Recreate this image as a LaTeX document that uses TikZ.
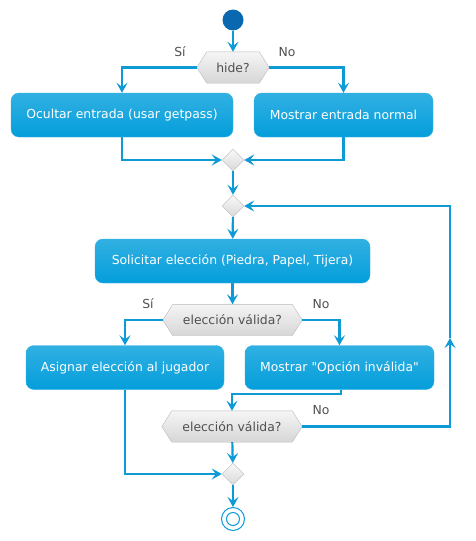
\documentclass[tikz,border=0pt]{standalone}
\usepackage{fontspec}
\setmainfont{DejaVu Sans}[Ligatures=TeXOff]
\usetikzlibrary{arrows.meta,shapes.geometric,backgrounds}
\definecolor{flowblue}{RGB}{14,154,215}
\definecolor{boxtop}{RGB}{49,176,226}
\definecolor{boxbot}{RGB}{4,158,219}
\definecolor{startblue}{RGB}{10,104,176}
\definecolor{hexgray}{RGB}{185,185,185}
\definecolor{txtgray}{RGB}{80,80,80}
\tikzset{
  flow/.style={line width=2.2pt,draw=flowblue,-{Stealth[length=10pt,width=11pt,inset=4pt]}},
  action/.style={rectangle,rounded corners=8pt,draw=boxtop,top color=boxtop,bottom color=boxbot,
    text=white,minimum height=44pt,inner sep=0pt,font=\fontsize{12.4}{14}\selectfont},
  decision/.style={rectangle,minimum height=31pt,inner sep=0pt,text=txtgray,font=\fontsize{12.4}{14}\selectfont},
  merge/.style={diamond,draw=hexgray,top color=gray!5,bottom color=gray!30,minimum width=22pt,minimum height=22pt,inner sep=0pt},
  lbl/.style={text=txtgray,font=\fontsize{12.4}{14}\selectfont},
}
\begin{document}
\begin{tikzpicture}[x=1pt,y=-1pt]
    \useasboundingbox (0,0) rectangle (475,541);
    %% Nodes
    \node[circle,fill=startblue,minimum size=21pt,inner sep=0pt] (start) at (233,20) {};
    \node[decision,minimum width=72pt] (hide) at (233,67.5) {hide?};
    \node[action,minimum width=222pt] (ocultar) at (122,115) {Ocultar entrada (usar getpass)};
    \node[action,minimum width=179pt] (mostrar) at (343.5,115) {Mostrar entrada normal};
    \node[merge] (merge1) at (233,160) {};
    \node[merge] (loop) at (233,206) {};
    \node[action,minimum width=275pt] (solicitar) at (232.5,261) {Solicitar elección (Piedra, Papel, Tijera)};
    \node[decision,minimum width=139pt] (valid1) at (232.5,320) {elección válida?};
    \node[action,minimum width=198pt] (asignar) at (125,367.5) {Asignar elección al jugador};
    \node[action,minimum width=189pt] (invalida) at (339.5,367.5) {Mostrar "Opción inválida"};
    \node[decision,minimum width=140pt] (valid2) at (232,426.5) {elección válida?};
    \node[merge] (merge3) at (233,474) {};
    \node[circle,draw=flowblue,fill=white,line width=1pt,minimum size=23pt,inner sep=0pt] (stop) at (233,519) {};
    \draw[flowblue,line width=1pt] (stop.center) circle (6.5pt);
    %% Hexagons behind the questions
    \begin{scope}[on background layer]
        \foreach \q in {hide,valid1,valid2}
            \draw[hexgray,top color=gray!8,bottom color=gray!32]
                (\q.west) -- ([xshift=10pt]\q.north west) -- ([xshift=-10pt]\q.north east)
                -- (\q.east) -- ([xshift=-10pt]\q.south east) -- ([xshift=10pt]\q.south west) -- cycle;
    \end{scope}
    %% Labels
    \node[lbl] (si1) at (180,52) {Sí};
    \node[lbl] (no1) at (287,52) {No};
    \node[lbl] (si2) at (148,304) {Sí};
    \node[lbl] (no2) at (321,304) {No};
    \node[lbl] (no3) at (321,410) {No};
    %% Flow
    \draw[flow] (start) -- (hide);
    \draw[flow] (hide.west) -| (ocultar);
    \draw[flow] (hide.east) -| (mostrar);
    \draw[flow] (ocultar) |- (merge1);
    \draw[flow] (mostrar) |- (merge1);
    \draw[flow] (merge1) -- (loop);
    \draw[flow] (loop) -- (solicitar);
    \draw[flow] (solicitar) -- (valid1);
    \draw[flow] (valid1.west) -| (asignar);
    \draw[flow] (valid1.east) -| (invalida);
    \draw[flow] ([xshift=1.5pt]invalida.south) -- ++(0,4) -| (valid2);
    \draw[flow] (asignar) |- (merge3);
    \draw[flow] (valid2) -- (merge3);
    \draw[flow] (merge3) -- (stop);
    %% Loop back
    \coordinate (backlow) at (450,426.5);
    \coordinate (backmid) at (450,338);
    \draw[flow] (valid2.east) -- (backlow) -- (backmid);
    \draw[flow] (backmid) |- (loop);
\end{tikzpicture}
\end{document}
